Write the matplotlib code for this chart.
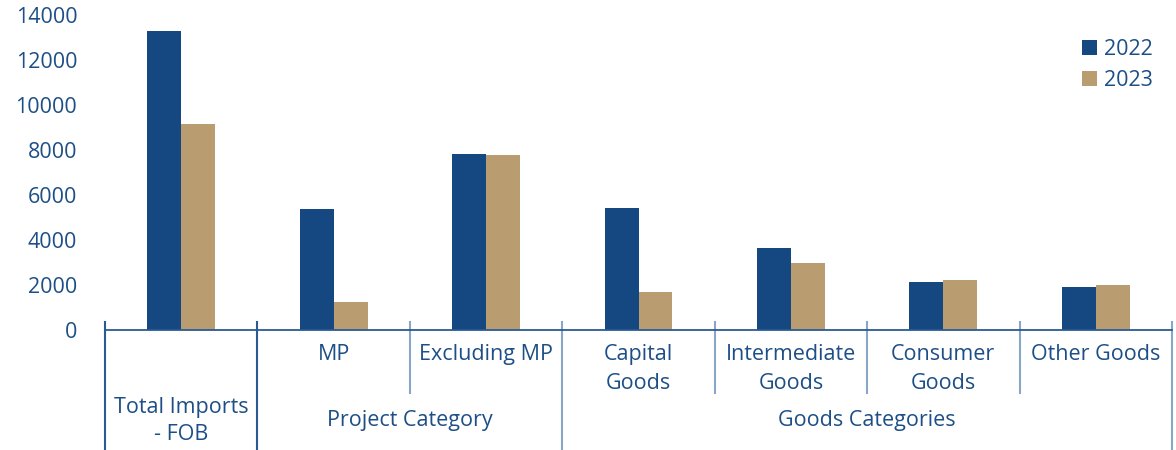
import matplotlib.pyplot as plt
import matplotlib.transforms as mtransforms
import numpy as np

plt.rcParams['font.family'] = ['Open Sans', 'DejaVu Sans']

categories = ["Total Imports\n- FOB", "MP", "Excluding MP", "Capital\nGoods",
              "Intermediate\nGoods", "Consumer\nGoods", "Other Goods"]
values_2022 = [13290, 5390, 7830, 5430, 3660, 2150, 1890]
values_2023 = [9160, 1265, 7790, 1710, 2990, 2240, 2020]
years = ["2022", "2023"]
y_ticks = [0, 2000, 4000, 6000, 8000, 10000, 12000, 14000]

# group labels and the category span each one covers
groups = [("Project Category", 1, 2), ("Goods Categories", 3, 6)]

blue = "#154880"
tan = "#b99c6f"
text_col = "#1d4f86"
line_dark = "#2a5a92"
line_light = "#8aa6c6"
fs = 15.5

fig = plt.figure(figsize=(11.76, 4.5), dpi=100)
ax = fig.add_axes([105 / 1176, 120 / 450, 1067 / 1176, 315 / 450])

x = np.arange(len(categories))
w = 0.223
ax.bar(x - w / 2, values_2022, w, color=blue, label=years[0])
ax.bar(x + w / 2, values_2023, w, color=tan, label=years[1])

ax.set_xlim(-0.5, len(categories) - 0.5)
ax.set_ylim(0, 14000)
ax.set_yticks(y_ticks)
ax.set_yticklabels([str(v) for v in y_ticks], fontsize=fs, color=text_col)
ax.tick_params(axis='y', length=0, pad=20)
ax.set_xticks([])
for s in ["top", "right", "left"]:
    ax.spines[s].set_visible(False)
ax.spines["bottom"].set_color(line_dark)
ax.spines["bottom"].set_linewidth(1.3)

trans = mtransforms.blended_transform_factory(ax.transData, ax.transAxes)

# separators: full height around groups, short between categories in a group
full = [-0.5, 0.5, 2.5, 6.5]
short = [1.5, 3.5, 4.5, 5.5]
for xs in full:
    col = line_dark if xs < 1 else line_light
    ax.plot([xs, xs], [0.025, -0.385], transform=trans, color=col,
            lw=1.5, clip_on=False)
for xs in short:
    ax.plot([xs, xs], [0.025, -0.2], transform=trans, color=line_light,
            lw=1.5, clip_on=False)

for i, lab in enumerate(categories):
    if i == 0:
        ax.text(i, -0.213, lab, transform=trans, ha='center', va='top',
                fontsize=fs, color=text_col, linespacing=1.37)
    else:
        ax.text(i, -0.045, lab, transform=trans, ha='center', va='top',
                fontsize=fs, color=text_col, linespacing=1.5)

for name, a, b in groups:
    ax.text((a + b) / 2, -0.288, name, transform=trans, ha='center',
            va='center', fontsize=fs, color=text_col)

leg = ax.legend(loc='upper right', bbox_to_anchor=(1.0, 0.985), frameon=False,
                fontsize=fs, handlelength=0.7, handleheight=0.7,
                handletextpad=0.3, labelspacing=0.45)
for t in leg.get_texts():
    t.set_color(text_col)

fig.savefig("out.png", dpi=100)
